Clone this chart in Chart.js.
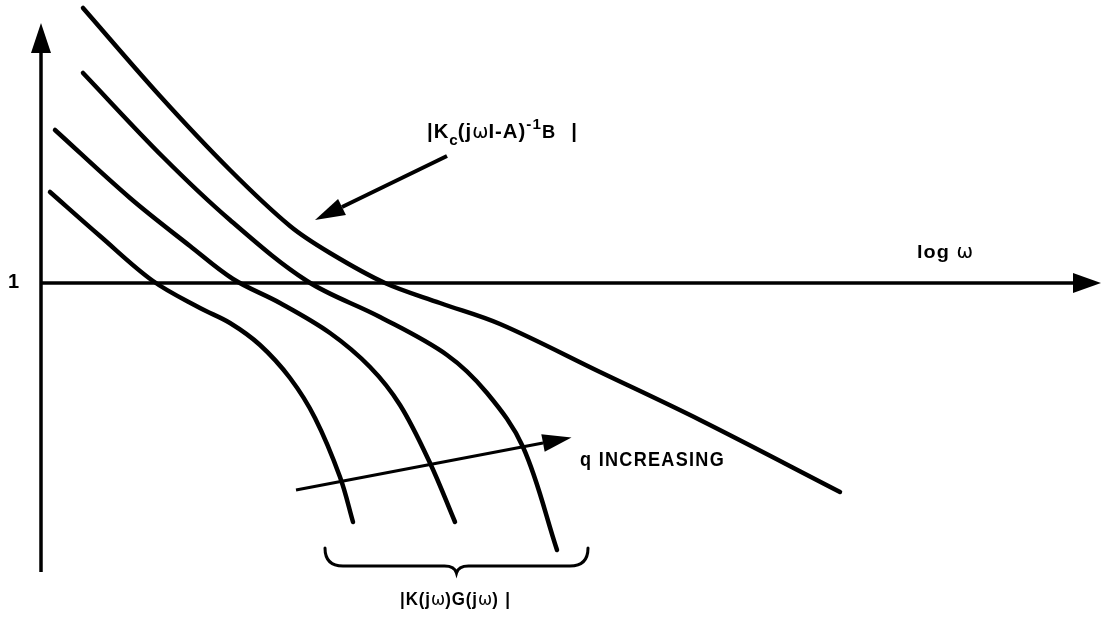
<!DOCTYPE html>
<html lang="en">
<head>
<meta charset="UTF-8">
<title>Loop gain recovery</title>
<script src="https://cdn.jsdelivr.net/npm/chart.js"></script>
<style>
  body { margin: 0; background: #fff; }
  #wrap { width: 1102px; height: 620px; }
</style>
</head>
<body>
<div id="wrap"><canvas id="loopChart"></canvas></div>
<script>
// sketch units: x runs with log w, y runs downward (magnitude falls as y grows)
const kcLoop = [[83,8],[160,96],[230,170],[290,226],[330,253],[385,283],[440,303],[500,324],[600,372],[700,420],[840,492]];
const kgLowQ = [[50,192],[100,236],[153,281],[200,308],[230,323],[260,345],[290,378],[315,418],[340,477],[353,522]];
const kgMidQ = [[55,130],[130,198],[190,246],[233,279],[280,303],[330,333],[370,367],[400,405],[430,463],[455,522]];
const kgHighQ = [[83,73],[163,157],[230,220],[307,281],[380,317],[447,355],[487,393],[523,447],[557,550]];

// axes and pointers (last point is where the arrowhead sits)
const magAxis = [[41,572],[41,53]];
const freqAxis = [[41,283],[1073,283]];
const kcPointer = [[447,156],[342,207]];
const qPointer = [[296,490],[543,443]];

const braceFrom = 325, braceTo = 588;

const pts = a => a.map(([x, y]) => ({ x, y }));

const curve = d => ({
  data: pts(d), showLine: true, borderColor: '#000', borderWidth: 4.5,
  pointRadius: 0, tension: 0.35, fill: false, borderCapStyle: 'round'
});
const arrowLine = (d, width, head, half) => ({
  data: pts(d), showLine: true, borderColor: '#000', borderWidth: width,
  pointRadius: 0, tension: 0, fill: false, arrowHead: head, arrowHalf: half
});

const BOLD = "bold {s}px 'Liberation Sans', Arial, sans-serif";
const REG = "{s}px 'DejaVu Sans', 'Liberation Sans', sans-serif";
const f = (tpl, s) => tpl.replace('{s}', s);

// labels are squeezed horizontally to the width w (condensed lettering)
const labels = [
  { x: 8, y: 288, runs: [{ t: '1', font: f(BOLD, 20) }] },
  { x: 917, y: 258, w: 56, runs: [{ t: 'log ', font: f(BOLD, 19), ls: 1 }, { t: 'ω', font: f(REG, 19) }] },
  { x: 580, y: 466, w: 145, runs: [{ t: 'q INCREASING', font: f(BOLD, 21), ls: 1.5 }] },
  { x: 427, y: 138, w: 150, runs: [
    { t: '|K', font: f(BOLD, 20), ls: 1 },
    { t: 'c', font: f(BOLD, 15), dy: 7 },
    { t: '(j', font: f(BOLD, 20), ls: 1 },
    { t: 'ω', font: f(REG, 19) },
    { t: 'I-A)', font: f(BOLD, 20), ls: 1 },
    { t: '-1', font: f(BOLD, 15), dy: -9, ls: 1 },
    { t: 'B', font: f(BOLD, 18), gap: 16 },
    { t: '|', font: f(BOLD, 20) }
  ] },
  { x: 400, y: 605, w: 110, runs: [
    { t: '|K(j', font: f(BOLD, 18), ls: 1 },
    { t: 'ω', font: f(REG, 18) },
    { t: ')G(j', font: f(BOLD, 18), ls: 1 },
    { t: 'ω', font: f(REG, 18) },
    { t: ')', font: f(BOLD, 18), gap: 8 },
    { t: '|', font: f(BOLD, 18) }
  ] }
];

function runWidth(ctx, r) {
  ctx.font = r.font;
  ctx.letterSpacing = (r.ls || 0) + 'px';
  return ctx.measureText(r.t).width + (r.gap || 0);
}

const sketchPlugin = {
  id: 'sketch',
  afterDatasetsDraw(chart) {
    const ctx = chart.ctx;
    const sx = v => chart.scales.x.getPixelForValue(v);
    const sy = v => chart.scales.y.getPixelForValue(v);
    ctx.save();
    ctx.fillStyle = '#000';
    ctx.strokeStyle = '#000';

    // arrowheads on flagged datasets
    chart.data.datasets.forEach((ds, i) => {
      if (!ds.arrowHead) return;
      const el = chart.getDatasetMeta(i).data;
      const a = el[el.length - 2], b = el[el.length - 1];
      const dx = b.x - a.x, dy = b.y - a.y, len = Math.hypot(dx, dy);
      const ux = dx / len, uy = dy / len;
      const tx = b.x + ux * ds.arrowHead, ty = b.y + uy * ds.arrowHead;
      ctx.beginPath();
      ctx.moveTo(tx, ty);
      ctx.lineTo(b.x - uy * ds.arrowHalf, b.y + ux * ds.arrowHalf);
      ctx.lineTo(b.x + uy * ds.arrowHalf, b.y - ux * ds.arrowHalf);
      ctx.closePath();
      ctx.fill();
    });

    // brace under the K(jw)G(jw) family
    const x0 = sx(braceFrom), x1 = sx(braceTo), xm = (x0 + x1) / 2;
    const yTop = sy(548), yMid = sy(566), yTip = sy(573);
    ctx.lineWidth = 3;
    ctx.lineCap = 'round';
    ctx.beginPath();
    ctx.moveTo(x0, yTop);
    ctx.quadraticCurveTo(x0, yMid, x0 + 18, yMid);
    ctx.lineTo(xm - 12, yMid);
    ctx.quadraticCurveTo(xm - 2, yMid, xm, yTip);
    ctx.quadraticCurveTo(xm + 2, yMid, xm + 12, yMid);
    ctx.lineTo(x1 - 18, yMid);
    ctx.quadraticCurveTo(x1, yMid, x1, yTop);
    ctx.stroke();

    // text
    ctx.textBaseline = 'alphabetic';
    labels.forEach(l => {
      const total = l.runs.reduce((s, r) => s + runWidth(ctx, r), 0);
      const k = l.w ? l.w / total : 1;
      ctx.save();
      ctx.translate(sx(l.x), sy(l.y));
      ctx.scale(k, 1);
      let x = 0;
      l.runs.forEach(r => {
        ctx.font = r.font;
        ctx.letterSpacing = (r.ls || 0) + 'px';
        ctx.fillText(r.t, x, r.dy || 0);
        x += runWidth(ctx, r);
      });
      ctx.restore();
    });
    ctx.restore();
  }
};

new Chart(document.getElementById('loopChart'), {
  type: 'scatter',
  data: {
    datasets: [
      arrowLine(magAxis, 3.5, 30, 10),
      arrowLine(freqAxis, 3.5, 28, 10),
      curve(kcLoop),
      curve(kgLowQ),
      curve(kgMidQ),
      curve(kgHighQ),
      arrowLine(kcPointer, 4, 30, 9),
      arrowLine(qPointer, 3, 29, 9)
    ]
  },
  options: {
    responsive: true,
    maintainAspectRatio: false,
    animation: false,
    events: [],
    layout: { padding: 0 },
    scales: {
      x: { type: 'linear', min: 0, max: 1102, display: false },
      y: { type: 'linear', min: 0, max: 620, reverse: true, display: false }
    },
    plugins: { legend: { display: false }, tooltip: { enabled: false } }
  },
  plugins: [sketchPlugin]
});
</script>
</body>
</html>
